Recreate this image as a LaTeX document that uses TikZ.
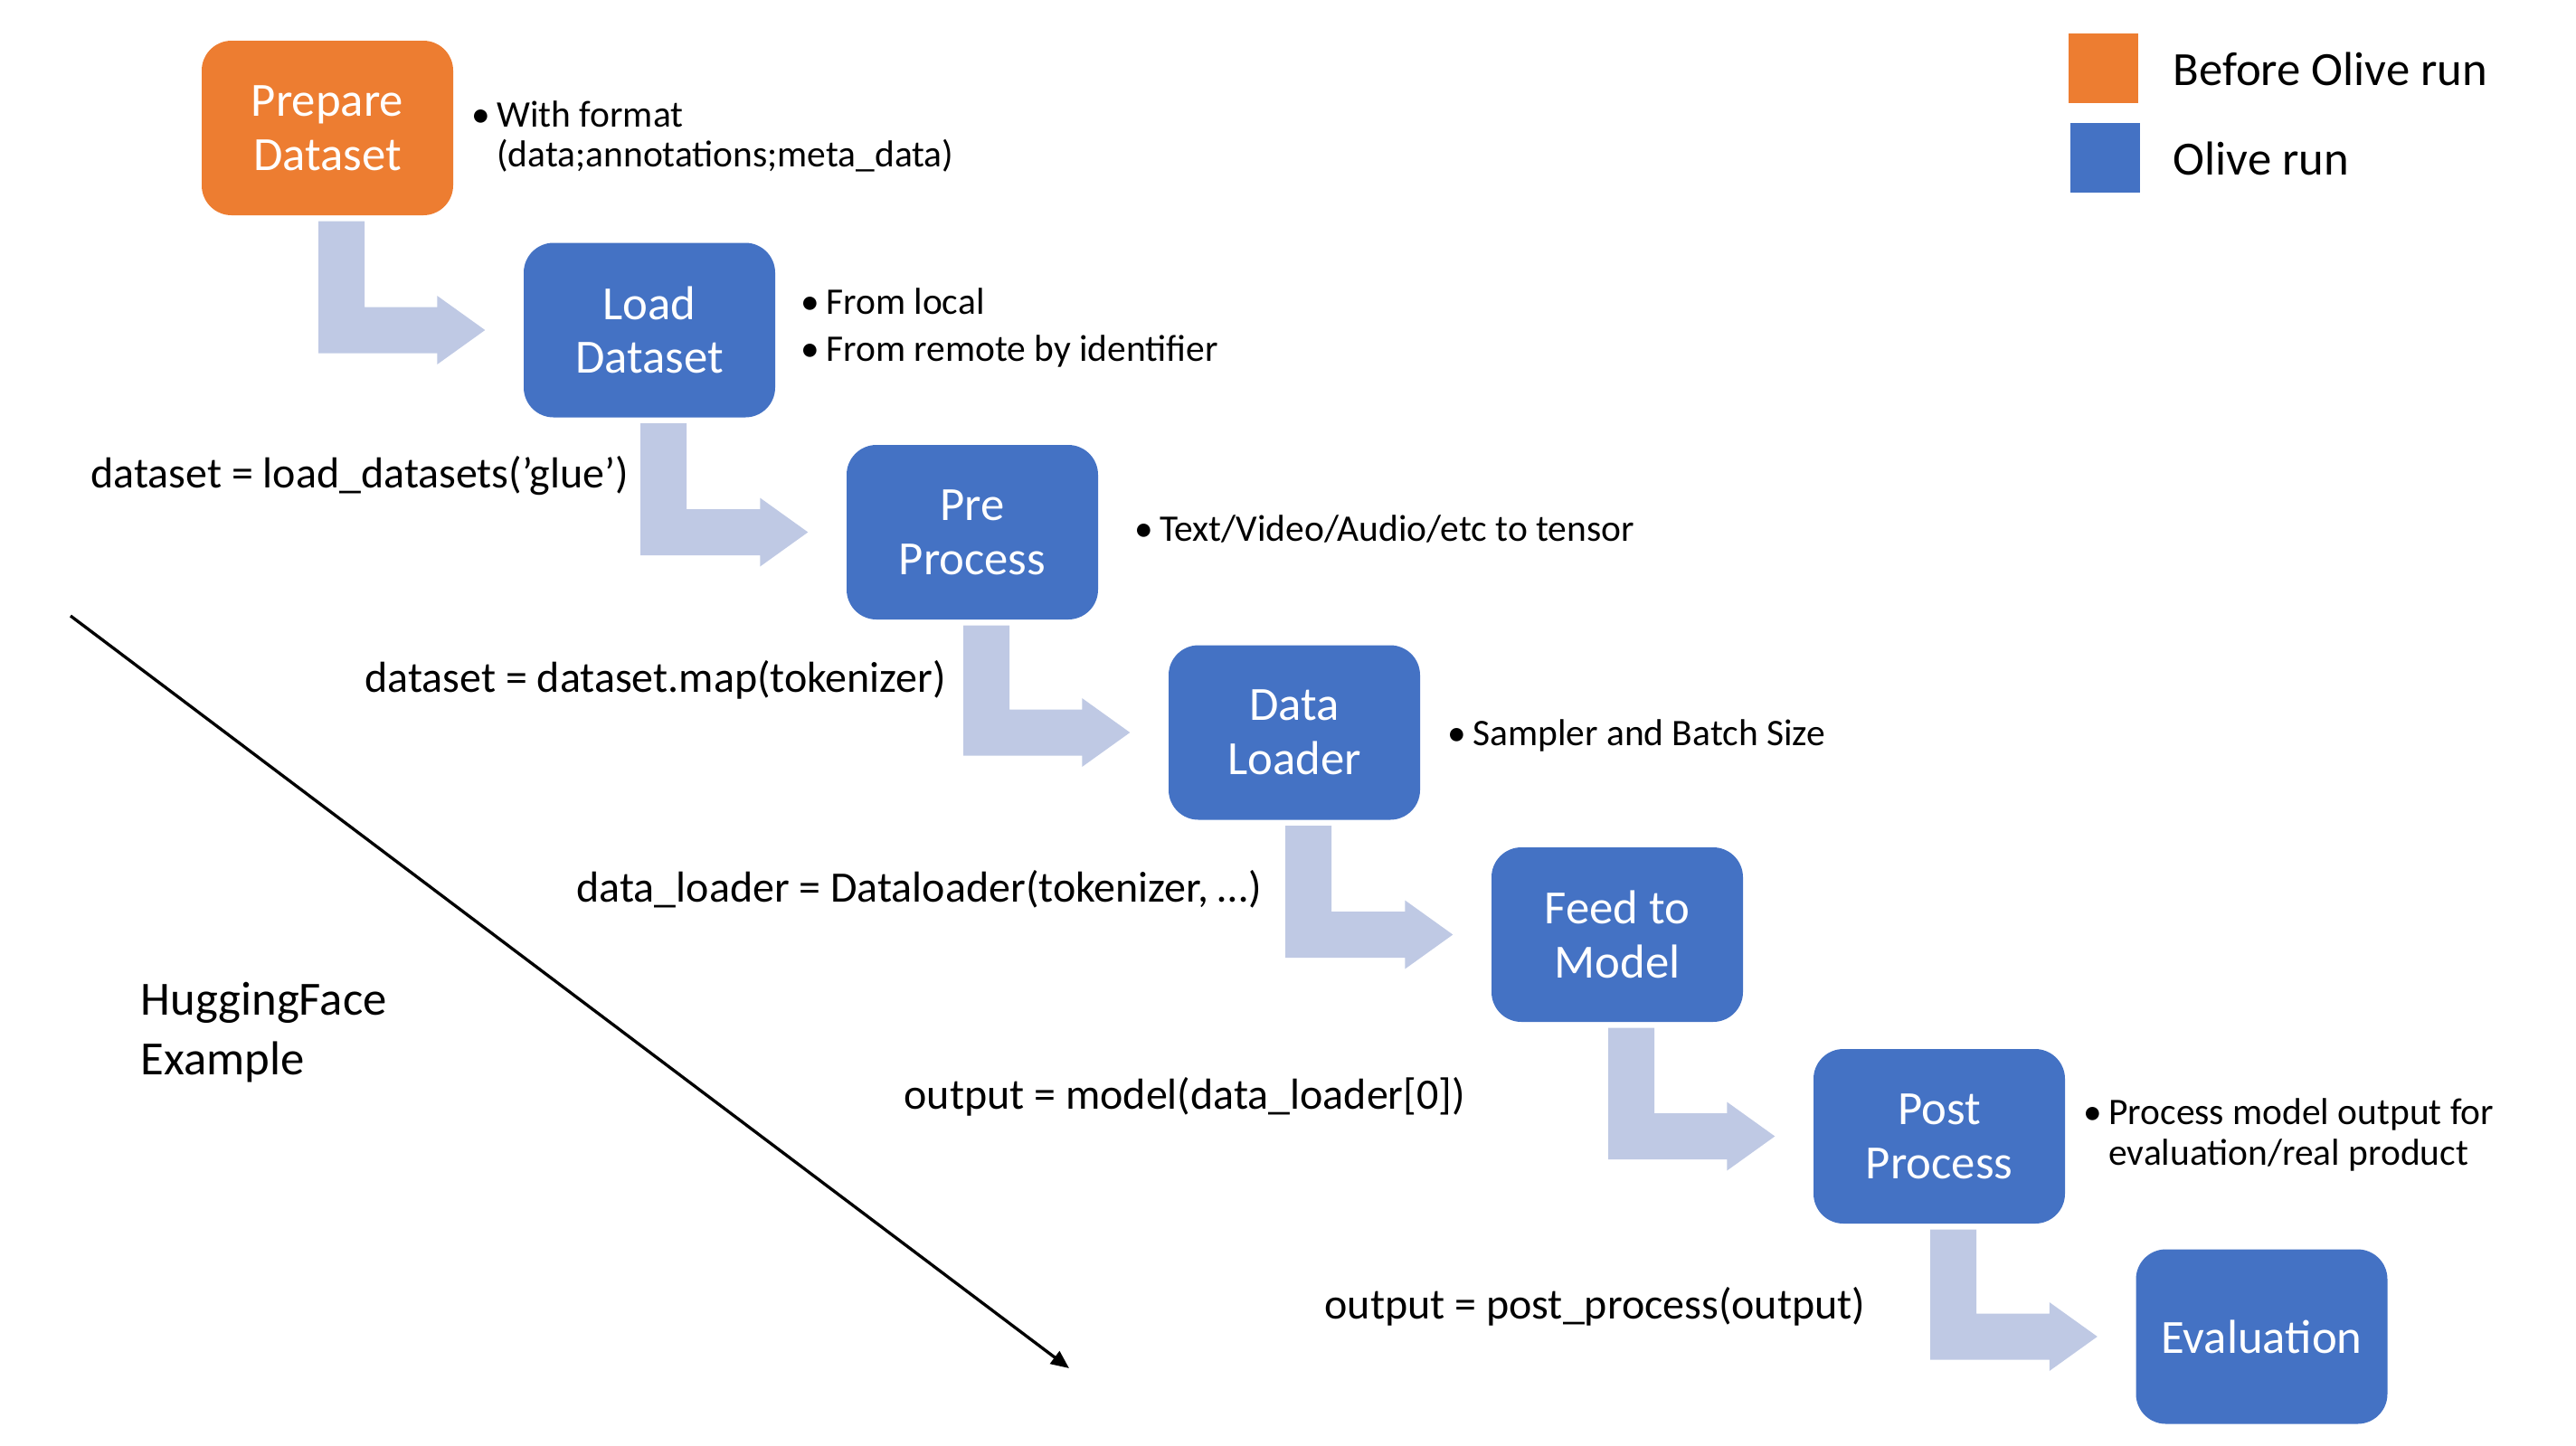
\documentclass[tikz,border=0pt]{standalone}
\usepackage{fontspec}
\setmainfont{Carlito}
\usetikzlibrary{calc,arrows.meta}

\definecolor{prepcol}{HTML}{ED7D31}
\definecolor{runcol}{HTML}{4472C4}
\definecolor{flowcol}{HTML}{BFC9E4}

\newcommand{\boxfont}{\fontsize{15}{17}\selectfont}
\newcommand{\codefont}{\fontsize{13.65}{16}\selectfont}
\newcommand{\notefont}{\fontsize{11.8}{12.8}\selectfont}

\tikzset{
    stepbox/.style = {rounded corners=0.33cm, minimum width=2.78cm, minimum height=1.93cm,
        inner sep=0pt, text=white, align=center, font=\boxfont},
    flowarrow/.style = {fill=flowcol},
    note/.style = {anchor=base west, inner sep=0pt, font=\notefont},
    code/.style = {anchor=base west, inner sep=0pt, font=\codefont},
    legendkey/.style = {minimum size=0.77cm, inner sep=0pt},
}

% bent arrow: down from one step, then right into the next
\newcommand{\bentarrow}[2]{%
    \fill[flowarrow] ($(#1.south)+(-0.10,-0.06)$) -- ($(#1.south)+(0.41,-0.06)$)
        |- ($(#2.west)+(-0.95,0.255)$) -- ($(#2.west)+(-0.95,0.38)$)
        -- ($(#2.west)+(-0.42,0)$) -- ($(#2.west)+(-0.95,-0.38)$)
        -- ($(#2.west)+(-0.95,-0.255)$) -| ($(#1.south)+(-0.10,-0.06)$) -- cycle;
}

\begin{document}
\begin{tikzpicture}

    \useasboundingbox (0,0) rectangle (28.48,-15.98);

    % Steps
    \node[stepbox, fill=prepcol] (prep) at (3.62,-1.415) {Prepare\\Dataset};
    \node[stepbox, fill=runcol] (load) at (7.18,-3.65) {Load\\Dataset};
    \node[stepbox, fill=runcol] (pre) at (10.75,-5.885) {Pre\\Process};
    \node[stepbox, fill=runcol] (loader) at (14.31,-8.10) {Data\\Loader};
    \node[stepbox, fill=runcol] (feed) at (17.88,-10.335) {Feed to\\Model};
    \node[stepbox, fill=runcol] (post) at (21.44,-12.565) {Post\\Process};
    \node[stepbox, fill=runcol] (eval) at (25.005,-14.78) {Evaluation};

    % Bent arrows
    \bentarrow{prep}{load}
    \bentarrow{load}{pre}
    \bentarrow{pre}{loader}
    \bentarrow{loader}{feed}
    \bentarrow{feed}{post}
    \bentarrow{post}{eval}

    % Notes
    \node[note] (prepnote) at (5.21,-1.40) {\begin{tabular}[t]{@{}l@{\hspace{2pt}}l@{}}
        \textbullet & With format\\ & (data;annotations;meta\_data)\end{tabular}};
    \node[note] (loadnote) at (8.85,-3.47) {\begin{tabular}[t]{@{}l@{\hspace{2pt}}l@{}}
        \textbullet & From local\\[2pt] \textbullet & From remote by identifier\end{tabular}};
    \node[note] (prenote) at (12.54,-5.98) {\textbullet\hspace{2pt}Text/Video/Audio/etc to tensor};
    \node[note] (loadernote) at (16.00,-8.24) {\textbullet\hspace{2pt}Sampler and Batch Size};
    \node[note] (postnote) at (23.03,-12.43) {\begin{tabular}[t]{@{}l@{\hspace{2pt}}l@{}}
        \textbullet & Process model output for\\ & evaluation/real product\end{tabular}};

    % Code lines
    \node[code] (code1) at (1.00,-5.39) {dataset = load\_datasets('glue')};
    \node[code] (code2) at (4.03,-7.65) {dataset = dataset.map(tokenizer)};
    \node[code] (code3) at (6.37,-9.97) {data\_loader = Dataloader(tokenizer, …)};
    \node[code] (code4) at (9.99,-12.26) {output = model(data\_loader[0])};
    \node[code] (code5) at (14.64,-14.58) {output = post\_process(output)};

    % HuggingFace side
    \node[anchor=base west, inner sep=0pt, font=\fontsize{15}{18.8}\selectfont] (hf) at (1.55,-11.22)
        {\begin{tabular}[t]{@{}l@{}}HuggingFace\\Example\end{tabular}};
    \coordinate (hfstart) at (0.78,-6.81);
    \coordinate (hfend) at (11.82,-15.13);
    \draw[line width=0.95pt, -{Triangle[length=0.2cm,width=0.17cm]}] (hfstart) -- (hfend);

    % Legend
    \node[legendkey, fill=prepcol] (keyprep) at (23.25,-0.75) {};
    \node[legendkey, fill=runcol] (keyrun) at (23.27,-1.74) {};
    \node[anchor=base west, inner sep=0pt, font=\boxfont] (keypreptext) at (24.02,-0.94) {Before Olive run};
    \node[anchor=base west, inner sep=0pt, font=\boxfont] (keyruntext) at (24.02,-1.93) {Olive run};

\end{tikzpicture}
\end{document}
